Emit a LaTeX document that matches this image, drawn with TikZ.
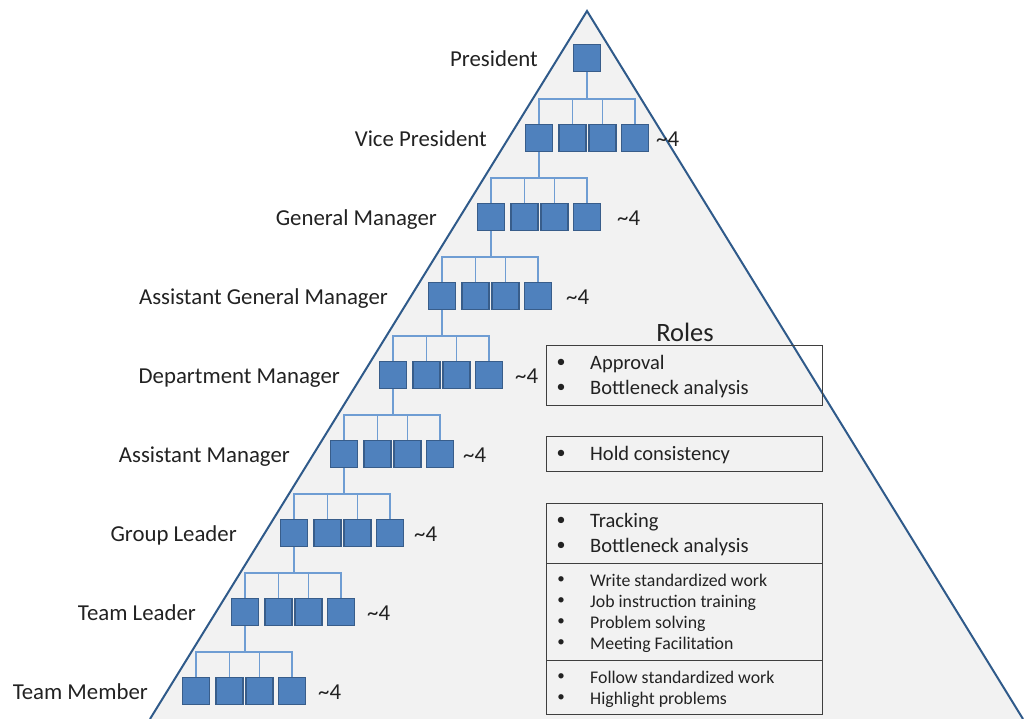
\documentclass[tikz,border=0pt]{standalone}
\usepackage{fontspec}
\setmainfont{Carlito}
\definecolor{trifill}{HTML}{F2F2F2}
\definecolor{tristroke}{HTML}{2F5A8A}
\definecolor{sqfill}{HTML}{4F81BD}
\definecolor{sqborder}{HTML}{385D8A}
\definecolor{connblue}{HTML}{6F9DD3}
\definecolor{boxgray}{HTML}{3F3F3F}
\definecolor{txt}{HTML}{222222}
\begin{document}
\begin{tikzpicture}[x=1pt,y=-1pt,
  sq/.style={draw=sqborder, fill=sqfill, line width=1.5pt, minimum size=27pt, inner sep=0pt},
  conn/.style={draw=connblue, line width=1.3pt},
  lvl/.style={anchor=east, inner sep=0pt, text height=17pt, text depth=0pt, font=\fontsize{22.8}{26}\selectfont, text=txt},
  cnt/.style={anchor=west, inner sep=0pt, text height=17pt, text depth=0pt, font=\fontsize{22.8}{26}\selectfont, text=txt},
  rolebox/.style={draw=boxgray, line width=1.3pt, anchor=north west, inner sep=0pt},
  bul/.style={anchor=center, inner sep=0pt, font=\fontsize{18}{22}\selectfont, text=txt},
  item/.style={anchor=west, inner sep=0pt, text height=14pt, text depth=1pt, font=\fontsize{20.5}{24}\selectfont, text=txt},
  sitem/.style={anchor=west, inner sep=0pt, text height=13pt, text depth=1pt, font=\fontsize{17.8}{21}\selectfont, text=txt},
  sbul/.style={anchor=center, inner sep=0pt, font=\fontsize{15}{18}\selectfont, text=txt}
]
\useasboundingbox (0,0) rectangle (1024,719);
% pyramid
\fill[trifill] (587,11) -- (150,719) -- (1023,719) -- cycle;
\draw[tristroke, line width=2pt, line join=miter] (150,719) -- (587,11) -- (1023,719);

% President
\node[sq] (p) at (587,58) {};
\node[lvl] (lp) at (538,58) {President};

% rows: name, first x, y, label, label right x, count x
\foreach \r/\fx/\y/\lab/\lx/\cx in {
  1/539/138/Vice President/487/656,
  2/491/217/General Manager/437/617,
  3/442/296/Assistant General Manager/388/566,
  4/393/375/Department Manager/340/515,
  5/344/454/Assistant Manager/290/463,
  6/294/533/Group Leader/237/414,
  7/245/612/Team Leader/196/367,
  8/196/691/Team Member/148/318}{
  \node[sq] (r\r a) at (\fx,\y) {};
  \node[sq] (r\r b) at (\fx+33.5,\y) {};
  \node[sq] (r\r c) at (\fx+63.5,\y) {};
  \node[sq] (r\r d) at (\fx+96,\y) {};
  \node[lvl] (l\r) at (\lx,\y) {\lab};
  \node[cnt] (c\r) at (\cx,\y) {\textasciitilde4};
}

% connectors
\foreach \r/\pa/\by in {1/p/99,2/r1a/178,3/r2a/257,4/r3a/336,5/r4a/415,6/r5a/494,7/r6a/573,8/r7a/652}{
  \coordinate (bar\r) at (\pa.south |- 0,\by);
  \foreach \k in {a,b,c,d}{
    \draw[conn] (\pa.south) -- (bar\r) -| (r\r\k.north);
  }
}

% Roles
\node[inner sep=0pt, font=\fontsize{26.5}{30}\selectfont, text=txt] (roles) at (685,332) {Roles};

\node[rolebox, minimum width=276pt, minimum height=60pt] (b1) at (546,345) {};
\node[bul] (b1u1) at (561,363) {•};
\node[item] (b1t1) at (590,363) {Approval};
\node[bul] (b1u2) at (561,388) {•};
\node[item] (b1t2) at (590,388) {Bottleneck analysis};

\node[rolebox, minimum width=276pt, minimum height=35pt] (b2) at (546,436) {};
\node[bul] (b2u1) at (561,454) {•};
\node[item] (b2t1) at (590,454) {Hold consistency};

\node[rolebox, minimum width=276pt, minimum height=60pt] (b3) at (546,503) {};
\node[bul] (b3u1) at (561,521) {•};
\node[item] (b3t1) at (590,521) {Tracking};
\node[bul] (b3u2) at (561,546) {•};
\node[item] (b3t2) at (590,546) {Bottleneck analysis};

\node[rolebox, minimum width=276pt, minimum height=97pt] (b4) at (546,563) {};
\node[sbul] (b4u1) at (561,580) {•};
\node[sitem] (b4t1) at (590,580) {Write standardized work};
\node[sbul] (b4u2) at (561,601) {•};
\node[sitem] (b4t2) at (590,601) {Job instruction training};
\node[sbul] (b4u3) at (561,622) {•};
\node[sitem] (b4t3) at (590,622) {Problem solving};
\node[sbul] (b4u4) at (561,643) {•};
\node[sitem] (b4t4) at (590,643) {Meeting Facilitation};

\node[rolebox, minimum width=276pt, minimum height=54pt] (b5) at (546,660) {};
\node[sbul] (b5u1) at (561,677) {•};
\node[sitem] (b5t1) at (590,677) {Follow standardized work};
\node[sbul] (b5u2) at (561,698) {•};
\node[sitem] (b5t2) at (590,698) {Highlight problems};
\end{tikzpicture}
\end{document}
